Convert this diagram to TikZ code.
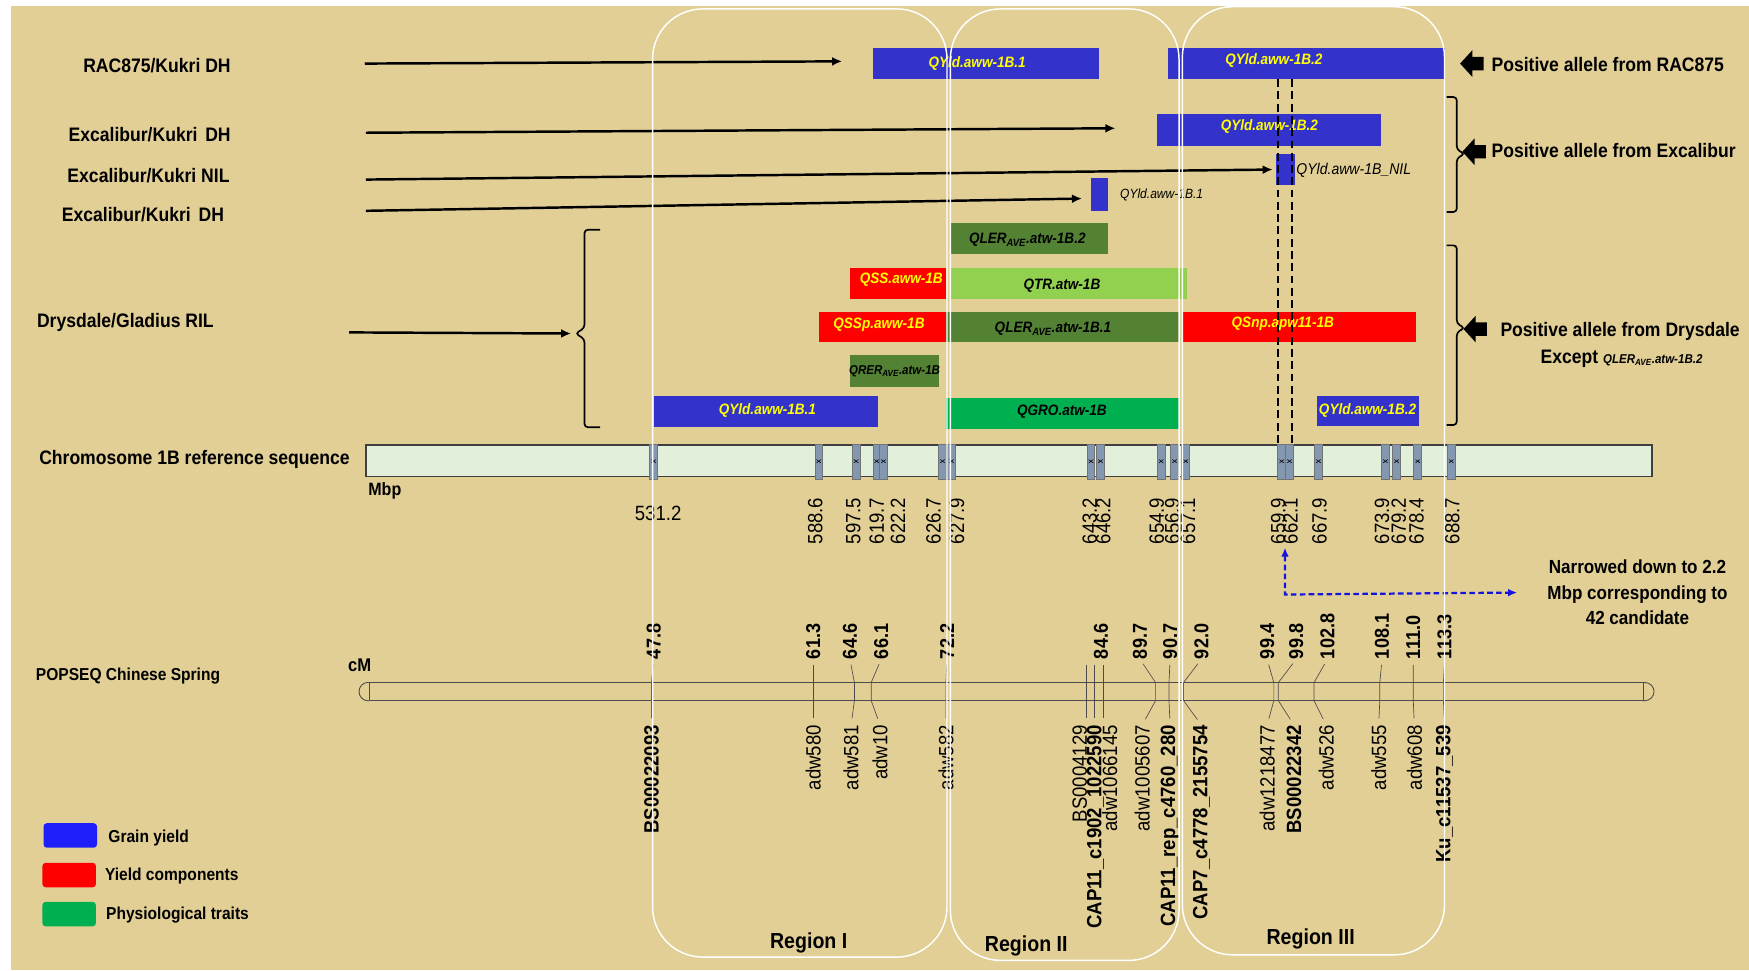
\documentclass[tikz,border=0pt]{standalone}
\usepackage{fontspec}
\setmainfont{Liberation Sans}[FakeStretch=0.9]
\usetikzlibrary{arrows.meta,calc}

\definecolor{paper}{RGB}{226,207,150}
\definecolor{qblue}{RGB}{51,51,204}
\definecolor{qred}{RGB}{255,0,0}
\definecolor{qdark}{RGB}{84,130,53}
\definecolor{qlight}{RGB}{146,208,80}
\definecolor{qgreen}{RGB}{0,176,80}
\definecolor{qyellow}{RGB}{255,255,0}
\definecolor{chrfill}{RGB}{226,239,218}
\definecolor{mkfill}{RGB}{132,151,176}
\definecolor{legblue}{RGB}{30,30,250}
\definecolor{narrblue}{RGB}{20,20,220}

\tikzset{
  rowlab/.style={inner sep=0, font=\bfseries\fontsize{17.5}{21}\selectfont},
  sidelab/.style={inner sep=0, font=\bfseries\fontsize{17.5}{23}\selectfont},
  qtl/.style={inner sep=0, font=\bfseries\itshape\fontsize{13.5}{16}\selectfont},
  smalllab/.style={inner sep=0, anchor=west, font=\itshape\fontsize{14}{16}\selectfont},
  mbnum/.style={inner sep=0, font=\fontsize{18.5}{21}\selectfont},
  cmnum/.style={inner sep=0, rotate=90, anchor=west, font=\bfseries\fontsize{18}{21}\selectfont},
  nmr/.style={inner sep=0, rotate=90, anchor=east, font=\fontsize{18.5}{21}\selectfont},
  nmb/.style={nmr, font=\bfseries\fontsize{18.5}{21}\selectfont},
  arr/.style={-{Latex[length=9pt,width=8pt]}, line width=2.2pt},
  brace/.style={line width=1.5pt, rounded corners=3pt},
  chrom/.style={draw=black!75, fill=chrfill, line width=1.2pt, inner sep=0},
  mkbox/.style={fill=mkfill, draw=black!55, line width=.6pt},
  cmbar/.style={draw=black!70, line width=.8pt, inner sep=0},
  cmlink/.style={draw=black!70, line width=.6pt},
  cutline/.style={line width=2pt, dash pattern=on 7pt off 4pt},
  narr/.style={draw=narrblue, line width=2pt, dash pattern=on 5pt off 3pt,
    {Latex[length=8pt,width=7pt]}-{Latex[length=8pt,width=7pt]}},
  legbox/.style={minimum width=48, minimum height=22, rounded corners=3pt, inner sep=0},
  leglab/.style={inner sep=0, anchor=west, font=\bfseries\fontsize{15.5}{18}\selectfont},
  regbox/.style={draw=white, line width=1.3pt, rounded corners=45pt, inner sep=0},
  reglab/.style={inner sep=0, font=\bfseries\fontsize{19.5}{22}\selectfont}
}

\newcommand{\fatarrow}[1]{\fill (#1) -- ++(11,-12) -- ++(0,6) -- ++(10,0) -- ++(0,12) -- ++(-10,0) -- ++(0,6) -- cycle;}

\begin{document}
\begin{tikzpicture}[x=1pt, y=-1pt]
\useasboundingbox (0,0) rectangle (1568,870);
\fill[white] (0,0) rectangle (1568,870);
\fill[paper] (10,5) rectangle (1568,870);

% populations
\node[rowlab, anchor=east] (rac) at (207,59) {RAC875/Kukri DH};
\node[rowlab, anchor=east] (excA) at (207,121) {Excalibur/Kukri\hspace{.4em}DH};
\node[rowlab, anchor=east] (excN) at (206,157) {Excalibur/Kukri NIL};
\node[rowlab, anchor=east] (excB) at (201,192) {Excalibur/Kukri\hspace{.4em}DH};
\node[rowlab, anchor=west] (dry) at (33,289) {Drysdale/Gladius RIL};
\node[rowlab, anchor=west] (chrlab) at (35,412) {Chromosome 1B reference sequence};
\node[rowlab, anchor=west, font=\bfseries\fontsize{15.5}{18}\selectfont] (pop) at (32,606) {POPSEQ Chinese Spring};

\coordinate (racS) at (327,57);   \coordinate (racE) at (755,55);
\coordinate (excAS) at (328,119); \coordinate (excAE) at (1000,115);
\coordinate (excNS) at (328,161); \coordinate (excNE) at (1141,152);
\coordinate (excBS) at (328,189); \coordinate (excBE) at (970,178);
\coordinate (dryS) at (313,298);  \coordinate (dryE) at (512,299);
\foreach \r in {rac,excA,excN,excB,dry}
  \draw[arr] (\r S) -- (\r E);

% braces
\draw[brace] (538,206) -- (524,206) -- (524,294) -- (516,299) -- (524,304) -- (524,383) -- (538,383);
\draw[brace] (1297,87) -- (1306,87) -- (1306,134) -- (1313,138) -- (1306,142) -- (1306,190) -- (1297,190);
\draw[brace] (1297,220) -- (1306,220) -- (1306,290) -- (1313,294) -- (1306,298) -- (1306,381) -- (1297,381);

% QTL bars
\foreach \xa/\xb/\ya/\yb/\col/\tx/\ty/\tc/\fs/\txt [count=\i] in {
  783/985/43/71/qblue/876/57/qyellow/13.5/QYld.aww-1B.1,
  1047/1295/43/71/qblue/1142/54/qyellow/13.5/QYld.aww-1B.2,
  1037/1238/102/131/qblue/1138/113/qyellow/13.5/QYld.aww-1B.2,
  853/993/200/228/qdark/921/215/black/13.5/QLER\textsubscript{AVE}.atw-1B.2,
  762/848/240/268/qred/808/251/qyellow/13.5/QSS.aww-1B,
  852/1064/240/268/qlight/952/256/black/13.5/QTR.atw-1B,
  734/848/280/307/qred/788/291/qyellow/13.5/QSSp.aww-1B,
  848/1057/280/307/qdark/944/295/black/13.5/QLER\textsubscript{AVE}.atw-1B.1,
  1060/1269/280/307/qred/1150/290/qyellow/13.5/QSnp.apw11-1B,
  762/842/318/347/qdark/802/333/black/11.5/QRER\textsubscript{AVE}.atw-1B,
  586/787/355/383/qblue/688/368/qyellow/13.5/QYld.aww-1B.1,
  848/1058/357/385/qgreen/952/369/black/13.5/QGRO.atw-1B,
  1181/1272/355/382/qblue/1226/368/qyellow/13.5/QYld.aww-1B.2}
{
  \fill[fill=\col] (\xa,\ya) rectangle (\xb,\yb);
  \node[qtl, text=\tc, font=\bfseries\itshape\fontsize{\fs}{16}\selectfont] (q\i) at (\tx,\ty) {\txt};
}
\fill[qblue] (1144,138) rectangle (1161,166);
\node[smalllab] (nil) at (1162,153) {QYld.aww-1B\_NIL};
\fill[qblue] (978,160) rectangle (993,189);
\node[smalllab, font=\itshape\fontsize{12}{14}\selectfont] (qone) at (1004,175) {QYld.aww-1B.1};

% positive alleles
\fatarrow{1309,57}
\node[sidelab, anchor=west] (posR) at (1337,58) {Positive allele from RAC875};
\fatarrow{1311,136}
\node[sidelab, anchor=west] (posE) at (1337,135) {Positive allele from Excalibur};
\fatarrow{1312,295}
\node[sidelab, anchor=west] (posD) at (1345,297) {Positive allele from Drysdale};
\node[sidelab, anchor=west] (excp) at (1381,322) {Except {\fontsize{11.5}{13}\selectfont\itshape QLER\textsubscript{AVE}.atw-1B.2}};

% physical map
\node[chrom, minimum width=1153, minimum height=28] (chr) at (904.5,413) {};
\foreach \m in {586,734,767.5,786,792,845,853,978,986.5,1041,1053,1063,1149,1156,1182,1242,1252,1271,1301} {
  \filldraw[mkbox] (\m-3.5,398) rectangle (\m+3.5,430);
  \draw[line width=.5pt] (\m-2,412) -- (\m+2,415) (\m-2,415) -- (\m+2,412);
}
\draw[cutline] (1146,71) -- (1146,399);
\draw[cutline] (1158,71) -- (1158,399);
\node[inner sep=0, anchor=west, font=\bfseries\fontsize{16}{18}\selectfont] (mbp) at (330,440) {Mbp};
\node[mbnum] (mb0) at (590,460) {531.2};
\foreach \lx/\v [count=\i] in {731/588.6, 765/597.5, 786/619.7, 805/622.2, 837/626.7, 858/627.9,
    977/643.2, 989/646.2, 1037/654.9, 1051/656.9, 1065/657.1, 1146/659.9, 1157/662.1,
    1183/667.9, 1239/673.9, 1254/679.2, 1270/678.4, 1302/688.7}
  \node[mbnum, rotate=90, anchor=east] (mb\i) at (\lx,446) {\v};

\node[sidelab, align=center, font=\bfseries\fontsize{17}{23}\selectfont] (narrow) at (1468,531)
  {Narrowed down to 2.2\\Mbp corresponding to\\42 candidate};
\draw[narr, shorten >=27pt] ($(mb12.west)+(6,3)$) -- (1152,533) -- (narrow.west);

% genetic map
\node[inner sep=0, anchor=west, font=\bfseries\fontsize{16.5}{18}\selectfont] (cmu) at (312,596) {cM};
\node[cmbar, minimum width=1142, minimum height=16] (cm) at (902,620) {};
\draw[cmbar] (cm.north west) .. controls (319,612) and (319,628) .. (cm.south west);
\draw[cmbar] (cm.north east) .. controls (1486,612) and (1486,628) .. (cm.south east);

\foreach \lx/\bx/\v/\nx/\nm/\nf [count=\i] in {
  586/584/47.8/584/BS00022093/nmb,
  729/729/61.3/729/adw580/nmr,
  762/766/64.6/763/adw581/nmr,
  790/781/66.1/789/adw10/nmr,
  849/848/72.2/848/adw582/nmr,
  1022/1036/89.7/1024/adw1005607/nmr,
  1049/1048/90.7/1049/CAP11\_rep\_c4760\_280/nmb,
  1077/1061/92.0/1077/CAP7\_c4778\_2155754/nmb,
  1136/1142/99.4/1136/adw1218477/nmr,
  1162/1146/99.8/1160/BS00022342/nmb,
  1190/1178/102.8/1189/adw526/nmr,
  1239/1237/108.1/1236/adw555/nmr,
  1267/1267/111.0/1268/adw608/nmr,
  1295/1294/113.3/1295/Ku\_c11537\_539/nmb}
{
  \node[cmnum] (c\i) at (\lx,591) {\v};
  \node[\nf] (n\i) at (\nx,650) {\nm};
  \draw[cmlink, shorten <=5pt, shorten >=6pt] (c\i.west) -- (\bx,612) -- (\bx,628) -- (n\i.east);
}
\node[cmnum] (cf) at (987,591) {84.6};
\node[nmr] (nfa) at (968,650) {BS0004129};
\node[nmb] (nfb) at (982,650) {CAP11\_c1902\_1022590};
\node[nmr] (nfc) at (995,650) {adw1066145};
\draw[cmlink] (974,596) -- (974,644);
\draw[cmlink] (981,596) -- (981,644);
\draw[cmlink] (989,596) -- (989,644);

% legend
\node[legbox, fill=legblue] (lgb) at (63,749) {};
\node[legbox, fill=qred] (lgr) at (62,784.5) {};
\node[legbox, fill=qgreen] (lgg) at (62,819.5) {};
\node[leglab] (lgbt) at (97,751) {Grain yield};
\node[leglab] (lgrt) at (94,785) {Yield components};
\node[leglab] (lggt) at (95,820) {Physiological traits};

% regions
\node[regbox, minimum width=264, minimum height=850] (reg1) at (717,433) {};
\node[regbox, minimum width=205, minimum height=853] (reg2) at (954.5,434.5) {};
\node[regbox, minimum width=235, minimum height=850] (reg3) at (1177.5,431) {};
\node[reglab] (reg1t) at (725,845) {Region I};
\node[reglab] (reg2t) at (920,848) {Region II};
\node[reglab] (reg3t) at (1175,842) {Region III};
\end{tikzpicture}
\end{document}
